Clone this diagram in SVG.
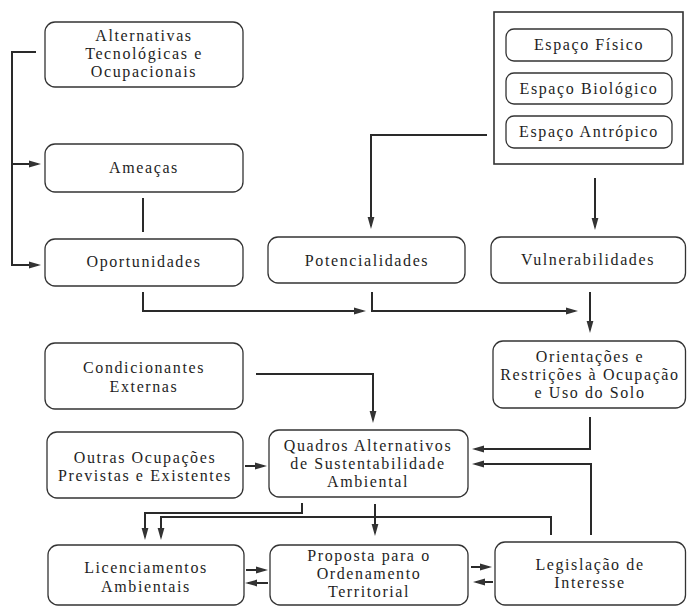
<svg xmlns="http://www.w3.org/2000/svg" width="687" height="607" viewBox="0 0 687 607">
<defs>
<style>
.box{fill:#fff;stroke:#333;stroke-width:1.3}
.outer{fill:#fff;stroke:#333;stroke-width:1.6}
.t{font-size:16px;letter-spacing:1.6px;fill:#1e1e1e;text-anchor:middle}
.c{fill:none;stroke:#2a2a2a;stroke-width:2}
.a{marker-end:url(#ah)}
</style>
<marker id="ah" markerUnits="userSpaceOnUse" markerWidth="13" markerHeight="9" refX="9" refY="4" orient="auto">
<path d="M0,0.6 L12,4 L0,7.4 Z" fill="#333"/>
</marker>
</defs>
<rect width="687" height="607" fill="#fff"/>

<g font-family="'Liberation Serif', 'DejaVu Serif', 'Noto Serif', 'Times New Roman', serif">
<g id="alternativas">
<rect class="box" x="45" y="22" width="198" height="65" rx="10"/>
<text class="t" x="144" y="41">Alternativas</text>
<text class="t" x="144" y="59">Tecnológicas e</text>
<text class="t" x="144" y="77">Ocupacionais</text>
</g>
<g id="ameacas">
<rect class="box" x="45" y="144" width="198" height="48" rx="10"/>
<text class="t" x="144" y="173">Ameaças</text>
</g>
<g id="oportunidades">
<rect class="box" x="45" y="239" width="198" height="47" rx="10"/>
<text class="t" x="144" y="267">Oportunidades</text>
</g>
<g id="potencialidades">
<rect class="box" x="268" y="237" width="197" height="46" rx="10"/>
<text class="t" x="367" y="266">Potencialidades</text>
</g>
<g id="vulnerabilidades">
<rect class="box" x="491" y="237" width="194.5" height="46" rx="10"/>
<text class="t" x="588" y="265">Vulnerabilidades</text>
</g>
<g id="espacos">
<rect class="outer" x="494" y="12" width="189" height="152"/>
<g id="espaco-fisico">
<rect class="box" x="506" y="29" width="166" height="32" rx="8"/>
<text class="t" x="589" y="50">Espaço Físico</text>
</g>
<g id="espaco-biologico">
<rect class="box" x="506" y="73" width="166" height="31" rx="8"/>
<text class="t" x="589" y="94">Espaço Biológico</text>
</g>
<g id="espaco-antropico">
<rect class="box" x="506" y="116" width="166" height="32" rx="8"/>
<text class="t" x="589" y="137">Espaço Antrópico</text>
</g>
</g>
<g id="condicionantes">
<rect class="box" x="45" y="343" width="198" height="66" rx="10"/>
<text class="t" x="144" y="373">Condicionantes</text>
<text class="t" x="144" y="392">Externas</text>
</g>
<g id="orientacoes">
<rect class="box" x="493" y="341" width="192.5" height="67" rx="10"/>
<text class="t" x="590" y="362">Orientações e</text>
<text class="t" x="590" y="380">Restrições à Ocupação</text>
<text class="t" x="590" y="398">e Uso do Solo</text>
</g>
<g id="outras">
<rect class="box" x="47" y="432" width="196" height="66" rx="10"/>
<text class="t" x="145" y="463">Outras Ocupações</text>
<text class="t" x="145" y="481">Previstas e Existentes</text>
</g>
<g id="quadros">
<rect class="box" x="269" y="430" width="199" height="67" rx="10"/>
<text class="t" x="368" y="451">Quadros Alternativos</text>
<text class="t" x="368" y="469">de Sustentabilidade</text>
<text class="t" x="368" y="487">Ambiental</text>
</g>
<g id="licenciamentos">
<rect class="box" x="48" y="545" width="196" height="60" rx="10"/>
<text class="t" x="146" y="573">Licenciamentos</text>
<text class="t" x="146" y="592">Ambientais</text>
</g>
<g id="proposta">
<rect class="box" x="270" y="545" width="198" height="60" rx="10"/>
<text class="t" x="369" y="561">Proposta para o</text>
<text class="t" x="369" y="579">Ordenamento</text>
<text class="t" x="369" y="597">Territorial</text>
</g>
<g id="legislacao">
<rect class="box" x="495" y="542" width="190.5" height="63" rx="10"/>
<text class="t" x="590" y="570">Legislação de</text>
<text class="t" x="590" y="588">Interesse</text>
</g>
</g>

<g id="connectors">
<path class="c a" d="M36,52 H12 V265 H38"/>
<path class="c a" d="M12,164 H38"/>
<path class="c" d="M143,198 V232"/>
<path class="c a" d="M143,292 V311 H363"/>
<path class="c a" d="M372,292 V311 H575"/>
<path class="c a" d="M590,292 V330"/>
<path class="c a" d="M487,135 H371 V226"/>
<path class="c a" d="M595,178 V227"/>
<path class="c a" d="M256,374 H373 V420"/>
<path class="c a" d="M245,466 H264"/>
<path class="c a" d="M590,417 V449 H475"/>
<path class="c a" d="M591,535 V464 H475"/>
<path class="c a" d="M551,535 V517 H161 V537"/>
<path class="c a" d="M302,503 V513 H145 V537"/>
<path class="c a" d="M375,504 V533"/>
<path class="c a" d="M246,570 H265"/>
<path class="c a" d="M268,583 H248"/>
<path class="c a" d="M471,567 H489"/>
<path class="c a" d="M493,582 H476"/>
</g>
</svg>
